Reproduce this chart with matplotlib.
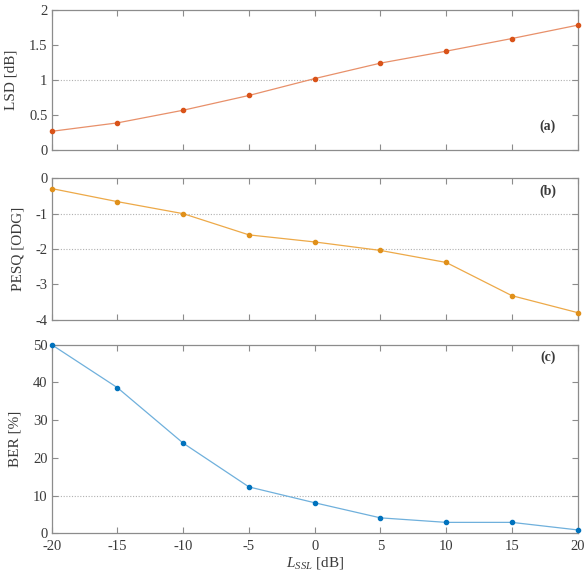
import matplotlib
matplotlib.use('Agg')
import matplotlib.pyplot as plt

plt.rcParams['font.family'] = ['Liberation Serif', 'DejaVu Serif']
plt.rcParams['mathtext.fontset'] = 'custom'
plt.rcParams['mathtext.it'] = 'Liberation Serif:italic'
plt.rcParams['mathtext.rm'] = 'Liberation Serif'

# data
l_ssl = [-20, -15, -10, -5, 0, 5, 10, 15, 20]
lsd = [0.27, 0.39, 0.57, 0.78, 1.02, 1.24, 1.41, 1.59, 1.78]
pesq = [-0.29, -0.66, -1.00, -1.60, -1.80, -2.04, -2.38, -3.32, -3.80]
ber = [50.0, 38.6, 23.9, 12.3, 8.1, 4.1, 2.9, 2.9, 0.9]

fig = plt.figure(figsize=(5.85, 5.71), dpi=100)

axcol = '#8c8c8c'
txtcol = '#3a3a3a'

panels = [
    dict(rect=[0.0884, 0.7368, 0.899, 0.2462], y=lsd, ylim=(0, 2),
         yticks=[0, 0.5, 1, 1.5, 2], ytl=['0', '0.5', '1', '1.5', '2'],
         ref=[1], ylabel='LSD [dB]', tag='(a)', tagpos=(0.943, 0.168),
         line='#e8906a', mark='#d95319'),
    dict(rect=[0.0884, 0.4401, 0.899, 0.2476], y=pesq, ylim=(-4, 0),
         yticks=[-4, -3, -2, -1, 0], ytl=['-4', '-3', '-2', '-1', '0'],
         ref=[-1, -2], ylabel='PESQ [ODG]', tag='(b)', tagpos=(0.943, 0.912),
         line='#eda948', mark='#e0901a'),
    dict(rect=[0.0884, 0.0660, 0.899, 0.3303], y=ber, ylim=(0, 50),
         yticks=[0, 10, 20, 30, 40, 50], ytl=['0', '10', '20', '30', '40', '50'],
         ref=[10], ylabel='BER [%]', tag='(c)', tagpos=(0.943, 0.936),
         line='#6fb0dc', mark='#0072bd'),
]

for i, p in enumerate(panels):
    ax = fig.add_axes(p['rect'])
    for r in p['ref']:
        ax.axhline(r, color='#b0b0b0', lw=0.8, ls=(0, (1, 1.5)), zorder=1)
    ax.plot(l_ssl, p['y'], color=p['line'], lw=0.9, zorder=2)
    ax.plot(l_ssl, p['y'], 'o', color=p['mark'], ms=3, mec=p['mark'], zorder=3,
            clip_on=False)
    ax.set_xlim(-20, 20)
    ax.set_ylim(*p['ylim'])
    ax.set_xticks(l_ssl)
    ax.set_yticks(p['yticks'])
    ax.set_yticklabels(p['ytl'])
    if i < 2:
        ax.set_xticklabels([])
    else:
        ax.set_xticklabels([str(v) for v in l_ssl])
        ax.set_xlabel(r'$L_{SSL}$ [dB]', fontsize=11, color=txtcol, labelpad=1)
    ax.set_ylabel(p['ylabel'], fontsize=11, color=txtcol, labelpad=8)
    ax.tick_params(direction='in', top=True, right=True, length=4, width=0.8,
                   color=axcol, labelcolor=txtcol, labelsize=10.5, pad=3)
    ax.tick_params(axis='x', pad=5)
    for s in ax.spines.values():
        s.set_color(axcol)
        s.set_linewidth(0.9)
    ax.text(p['tagpos'][0], p['tagpos'][1], p['tag'], transform=ax.transAxes,
            fontsize=10, fontweight='bold', color=txtcol, ha='center', va='center')

fig.savefig('out.png', dpi=100)
